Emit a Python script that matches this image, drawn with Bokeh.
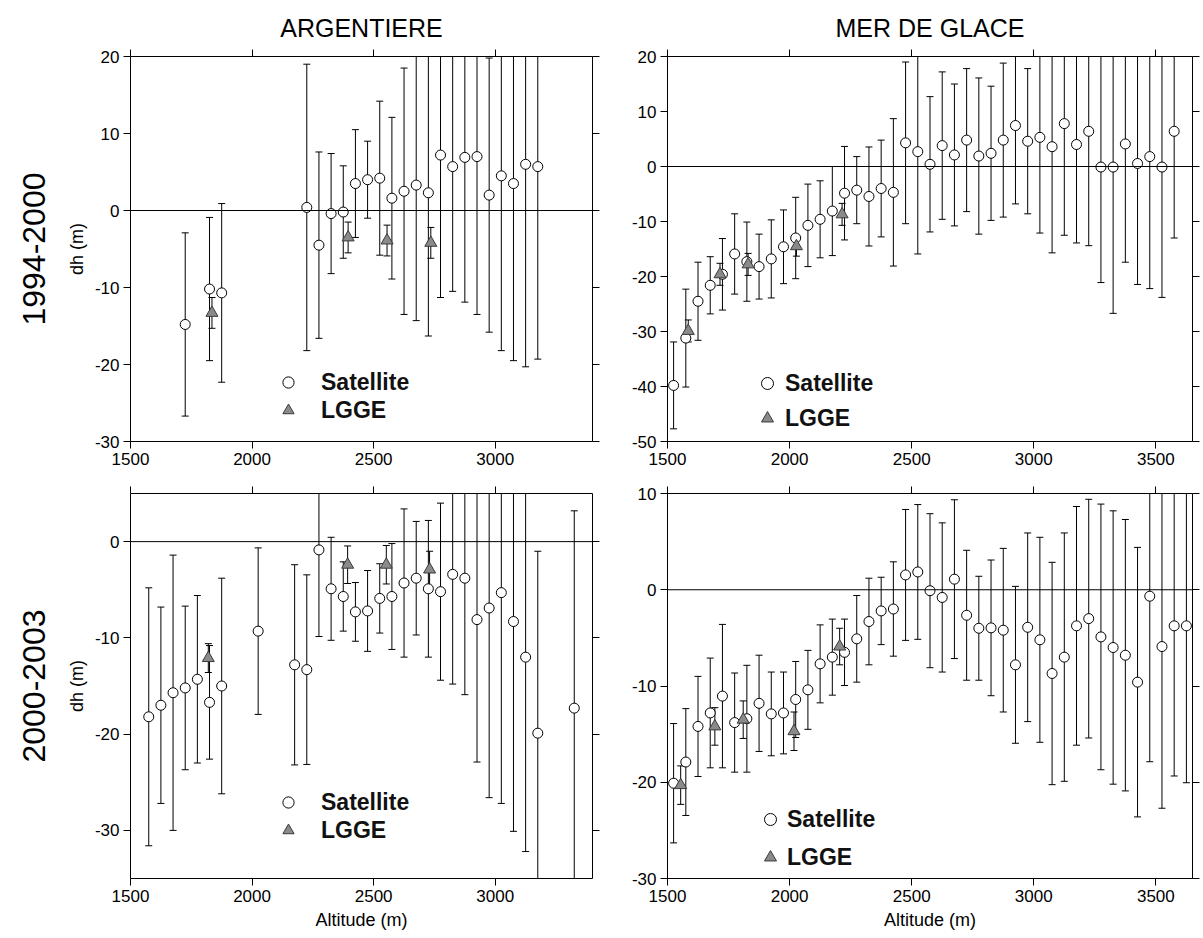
import numpy as np
from bokeh.plotting import figure
from bokeh.models import (ColumnDataSource, Range1d, FixedTicker, LinearAxis, Span,
                          Legend, LegendItem, Title, PrintfTickFormatter)
from bokeh.layouts import column, row
from bokeh.embed import file_html
from bokeh.resources import INLINE

FONT = "Liberation Sans"

# ---------------- data ----------------
# Argentiere 1994-2000
arg1_alt = [1725, 1825, 1875, 2225, 2275, 2325, 2375, 2425, 2475, 2525, 2575, 2625,
            2675, 2725, 2775, 2825, 2875, 2925, 2975, 3025, 3075, 3125, 3175]
arg1_dh = [-14.8, -10.2, -10.7, 0.4, -4.5, -0.4, -0.2, 3.5, 4.0, 4.2, 1.6, 2.5,
           3.3, 2.3, 7.2, 5.7, 6.9, 7.0, 2.0, 4.5, 3.5, 6.0, 5.7]
arg1_err = [11.9, 9.3, 11.6, 18.6, 12.1, 7.8, 6.0, 7.0, 5.0, 10.0, 10.5, 16.0,
            17.6, 18.6, 18.5, 16.2, 18.8, 20.5, 17.8, 22.7, 23.0, 26.3, 25.0]
arg1_lgge_alt = [1835, 2395, 2555, 2735]
arg1_lgge_dh = [-13.3, -3.5, -3.9, -4.2]
arg1_lgge_err = [2.0, 2.0, 2.0, 2.0]

# Mer de Glace 1994-2000
mdg1_alt = [1525, 1575, 1625, 1675, 1725, 1775, 1825, 1875, 1925, 1975, 2025, 2075,
            2125, 2175, 2225, 2275, 2325, 2375, 2425, 2475, 2525, 2575, 2625, 2675,
            2725, 2775, 2825, 2875, 2925, 2975, 3025, 3075, 3125, 3175, 3225, 3275,
            3325, 3375, 3425, 3475, 3525, 3575]
mdg1_dh = [-39.8, -31.2, -24.5, -21.6, -19.6, -15.9, -17.3, -18.2, -16.8, -14.6, -13.0, -10.7,
           -9.6, -8.1, -4.85, -4.3, -5.45, -4.0, -4.7, 4.3, 2.7, 0.4, 3.8, 2.1,
           4.8, 1.9, 2.4, 4.8, 7.45, 4.6, 5.3, 3.6, 7.8, 4.0, 6.4, -0.1,
           -0.1, 4.1, 0.55, 1.8, -0.1, 6.4]
mdg1_err = [7.9, 8.9, 7.1, 5.2, 6.5, 7.3, 7.2, 5.9, 7.1, 6.7, 7.4, 7.5,
            7.0, 8.1, 8.5, 6.1, 9.0, 8.8, 13.4, 14.7, 18.6, 12.3, 13.4, 12.9,
            13.0, 14.2, 12.2, 14.0, 14.25, 13.2, 17.4, 19.3, 20.3, 17.9, 20.8, 21.0,
            26.6, 21.5, 22.0, 24.0, 23.7, 19.4]
mdg1_lgge_alt = [1585, 1715, 1830, 2028, 2215]
mdg1_lgge_dh = [-29.9, -19.6, -17.8, -14.5, -8.7]
mdg1_lgge_err = [2.0, 2.0, 2.0, 1.8, 2.0]

# Argentiere 2000-2003
arg2_alt = [1575, 1625, 1675, 1725, 1775, 1825, 1875, 2025, 2175, 2225, 2275, 2325,
            2375, 2425, 2475, 2525, 2575, 2625, 2675, 2725, 2775, 2825, 2875, 2925,
            2975, 3025, 3075, 3125, 3175, 3325]
arg2_dh = [-18.2, -17.0, -15.7, -15.2, -14.3, -16.7, -15.0, -9.3, -12.8, -13.3, -0.86, -4.9,
           -5.7, -7.3, -7.2, -5.9, -5.7, -4.3, -3.8, -4.9, -5.2, -3.4, -3.8, -8.1,
           -6.9, -5.3, -8.3, -12.0, -19.9, -17.3]
arg2_err = [13.4, 10.2, 14.3, 8.5, 8.7, 5.9, 11.2, 8.65, 10.4, 9.85, 9.0, 5.35,
            3.6, 3.05, 4.2, 3.6, 5.5, 7.7, 5.9, 7.1, 9.2, 11.4, 12.1, 14.8,
            19.7, 21.9, 21.8, 20.2, 18.9, 20.5]
arg2_lgge_alt = [1820, 2393, 2552, 2730]
arg2_lgge_dh = [-12.1, -2.4, -2.4, -2.9]
arg2_lgge_err = [1.5, 1.95, 2.0, 1.9]

# Mer de Glace 2000-2003
mdg2_alt = [1525, 1575, 1625, 1675, 1725, 1775, 1825, 1875, 1925, 1975, 2025, 2075,
            2125, 2175, 2225, 2275, 2325, 2375, 2425, 2475, 2525, 2575, 2625, 2675,
            2725, 2775, 2825, 2875, 2925, 2975, 3025, 3075, 3125, 3175, 3225, 3275,
            3325, 3375, 3425, 3475, 3525, 3575, 3625]
mdg2_dh = [-20.1, -17.9, -14.2, -12.8, -11.05, -13.8, -13.4, -11.8, -12.9, -12.8, -11.4, -10.4,
           -7.7, -7.0, -6.5, -5.1, -3.3, -2.2, -2.0, 1.54, 1.85, -0.1, -0.8, 1.1,
           -2.65, -4.0, -3.96, -4.2, -7.8, -3.9, -5.2, -8.7, -7.0, -3.75, -3.0, -4.9,
           -6.0, -6.8, -9.6, -0.67, -5.9, -3.75, -3.75]
mdg2_err = [6.2, 5.55, 5.2, 5.7, 7.45, 5.15, 5.55, 5.0, 4.35, 4.25, 3.95, 4.1,
            4.05, 3.95, 3.45, 4.5, 4.5, 3.5, 4.9, 6.8, 7.0, 8.0, 7.75, 8.25,
            6.75, 5.4, 7.05, 8.5, 8.15, 9.8, 10.65, 11.55, 12.9, 12.4, 12.4, 13.8,
            14.2, 14.1, 14.0, 17.2, 16.8, 15.6, 16.3]
mdg2_lgge_alt = [1554, 1694, 1810, 2018, 2205]
mdg2_lgge_dh = [-20.3, -14.2, -13.5, -14.7, -5.9]
mdg2_lgge_err = [2.0, 1.95, 1.95, 2.0, 1.9]

col_titles = ["ARGENTIERE", "MER DE GLACE"]
row_titles = ["1994-2000", "2000-2003"]
legend_labels = ["Satellite", "LGGE"]
y_label = "dh (m)"
x_label = "Altitude (m)"

xticks_arg = [1500, 2000, 2500, 3000]
xticks_mdg = [1500, 2000, 2500, 3000, 3500]


def style_axis(ax, ticks, labels=True):
    ax.ticker = FixedTicker(ticks=ticks)
    ax.formatter = PrintfTickFormatter(format="%d")
    ax.axis_line_color = "black"
    ax.axis_line_width = 1
    ax.major_tick_line_color = "black"
    ax.major_tick_in = 0
    ax.major_tick_out = 7
    ax.minor_tick_line_color = None
    if labels:
        ax.major_label_text_font = FONT
        ax.major_label_text_font_size = "17px"
        ax.major_label_text_color = "black"
        ax.major_label_standoff = 4
    else:
        ax.major_label_text_font_size = "0px"
        ax.major_label_text_color = None
        ax.major_label_standoff = 0


def panel(alt, dh, err, lalt, ldh, lerr, xr, yr, xt, yt, geom, leg, ctitle, rtitle, xlab):
    w, h, bl, br, bt, bb = geom
    p = figure(width=w, height=h, x_range=Range1d(*xr), y_range=Range1d(*yr),
               output_backend="svg", toolbar_location=None, title=None,
               min_border_left=bl, min_border_right=br, min_border_top=bt,
               min_border_bottom=bb)
    p.grid.visible = False
    p.outline_line_color = None
    p.background_fill_color = "white"
    p.border_fill_color = "white"

    style_axis(p.xaxis[0], xt)
    style_axis(p.yaxis[0], yt)
    if xlab:
        p.xaxis.axis_label = xlab
        p.xaxis.axis_label_text_font = FONT
        p.xaxis.axis_label_text_font_size = "18px"
        p.xaxis.axis_label_text_font_style = "normal"
        p.xaxis.axis_label_text_color = "black"
        p.xaxis.axis_label_standoff = 5
    if rtitle:
        p.yaxis.axis_label = y_label
        p.yaxis.axis_label_text_font = FONT
        p.yaxis.axis_label_text_font_size = "18px"
        p.yaxis.axis_label_text_font_style = "normal"
        p.yaxis.axis_label_text_color = "black"
        p.yaxis.axis_label_standoff = 5

    top_ax = LinearAxis()
    style_axis(top_ax, xt, labels=False)
    p.add_layout(top_ax, "above")
    right_ax = LinearAxis()
    style_axis(right_ax, yt, labels=False)
    p.add_layout(right_ax, "right")

    if ctitle:
        p.add_layout(Title(text=ctitle, align="center", text_font=FONT, text_font_size="25px",
                           text_font_style="normal", text_color="black", standoff=16), "above")
    if rtitle:
        p.add_layout(Title(text=rtitle, align="center", text_font=FONT, text_font_size="32px",
                           text_font_style="normal", text_color="black", standoff=37), "left")

    p.add_layout(Span(location=0, dimension="width", line_color="black", line_width=1))

    a = np.array(alt, dtype=float)
    d = np.array(dh, dtype=float)
    e = np.array(err, dtype=float)
    s = ColumnDataSource(dict(x=a, y=d, lo=d - e, hi=d + e))
    la = np.array(lalt, dtype=float)
    ld = np.array(ldh, dtype=float)
    le = np.array(lerr, dtype=float)
    ls = ColumnDataSource(dict(x=la, y=ld, lo=ld - le, hi=ld + le))

    for src in (s, ls):
        p.segment(x0="x", y0="lo", x1="x", y1="hi", source=src, line_color="black", line_width=1)
        p.scatter("x", "lo", source=src, marker="dash", size=7, line_color="black", line_width=1)
        p.scatter("x", "hi", source=src, marker="dash", size=7, line_color="black", line_width=1)

    c = p.scatter("x", "y", source=s, marker="circle", size=10, fill_color="white",
                  line_color="black", line_width=1)
    t = p.scatter("x", "y", source=ls, marker="triangle", size=12, fill_color="#8a8a8a",
                  line_color="#3a3a3a", line_width=1)

    lx, ly, stand, spc, gh = leg
    legend = Legend(items=[LegendItem(label=legend_labels[0], renderers=[c]),
                           LegendItem(label=legend_labels[1], renderers=[t])],
                    location=(lx, ly), glyph_width=30, glyph_height=gh, label_height=gh,
                    label_standoff=stand, spacing=spc, padding=0, margin=0,
                    border_line_color=None, background_fill_alpha=0,
                    label_text_font=FONT, label_text_font_size="23px",
                    label_text_font_style="bold", label_text_color="#111111")
    p.add_layout(legend, "center")
    return p


p1 = panel(arg1_alt, arg1_dh, arg1_err, arg1_lgge_alt, arg1_lgge_dh, arg1_lgge_err,
           (1500, 3400), (-30, 20), xticks_arg, [-30, -20, -10, 0, 10, 20],
           (628, 472, 130, 36, 56, 31), (143, 17, 18, 0, 28), col_titles[0], row_titles[0], None)
p2 = panel(mdg1_alt, mdg1_dh, mdg1_err, mdg1_lgge_alt, mdg1_lgge_dh, mdg1_lgge_err,
           (1500, 3650), (-50, 20), xticks_mdg, [-50, -40, -30, -20, -10, 0, 10, 20],
           (572, 472, 36, 8, 56, 31), (85, 8, 3, 5, 30), col_titles[1], None, None)
p3 = panel(arg2_alt, arg2_dh, arg2_err, arg2_lgge_alt, arg2_lgge_dh, arg2_lgge_err,
           (1500, 3400), (-35, 5), xticks_arg, [-30, -20, -10, 0],
           (628, 463, 130, 36, 21, 57), (143, 34, 18, 0, 28), None, row_titles[1], x_label)
p4 = panel(mdg2_alt, mdg2_dh, mdg2_err, mdg2_lgge_alt, mdg2_lgge_dh, mdg2_lgge_err,
           (1500, 3650), (-30, 10), xticks_mdg, [-30, -20, -10, 0, 10],
           (572, 463, 36, 8, 21, 57), (88, 6, 2, 8, 30), None, None, x_label)

layout = column(row(p1, p2), row(p3, p4))
open("out.html", "w").write(file_html(layout, INLINE))
